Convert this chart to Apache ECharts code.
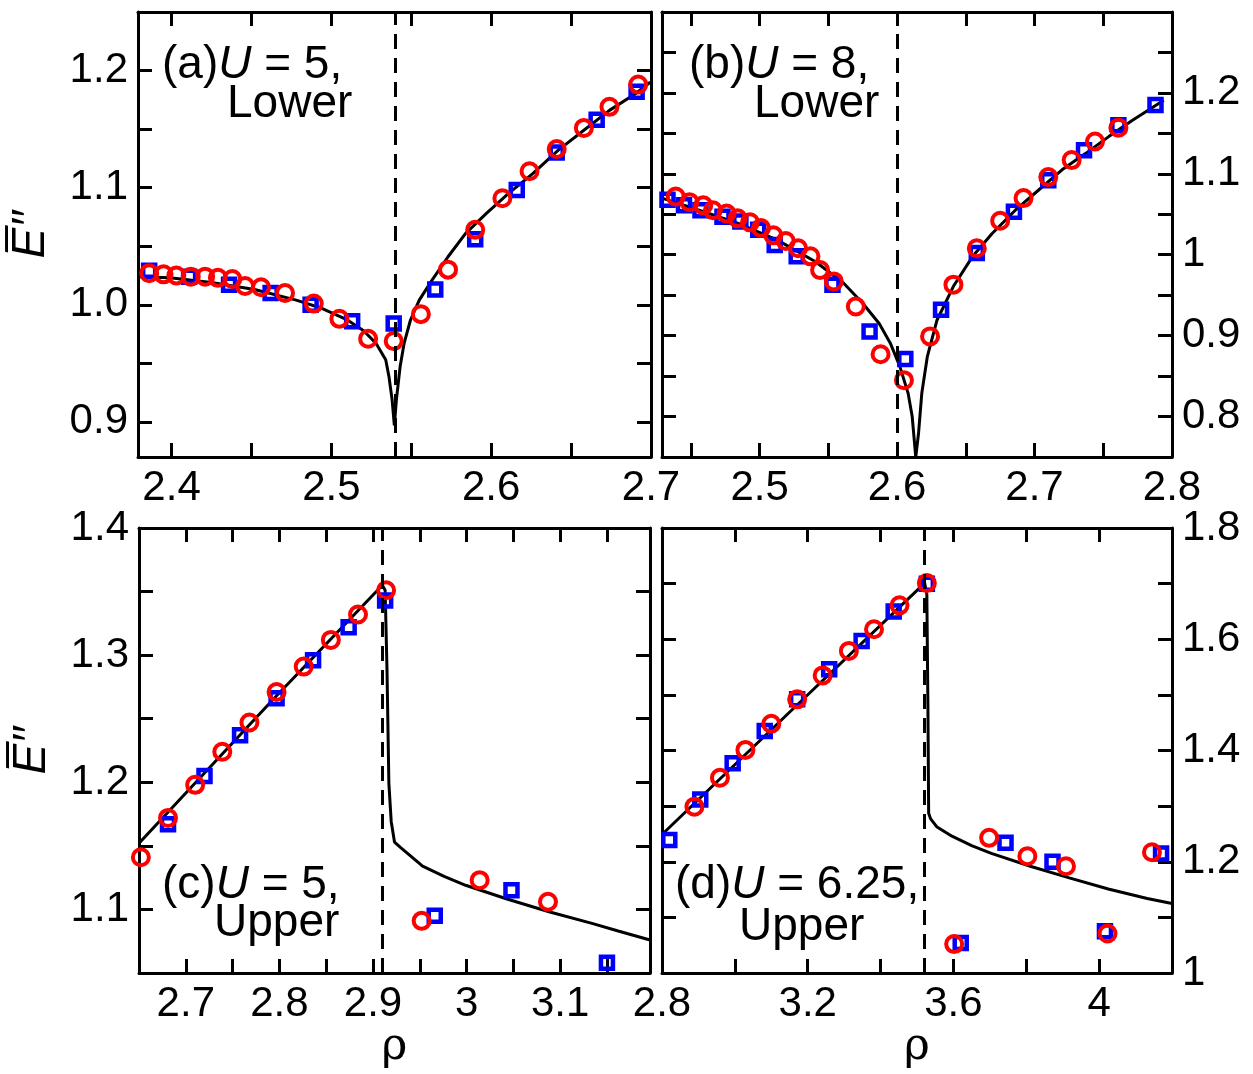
<!DOCTYPE html>
<html>
<head>
<meta charset="utf-8">
<title>E'' versus rho</title>
<script src="https://cdn.jsdelivr.net/npm/echarts@6/dist/echarts.min.js"></script>
<style>
  html, body { margin: 0; padding: 0; background: #fff; }
  #chart { width: 1253px; height: 1074px; }
</style>
</head>
<body>
<div id="chart"></div>
<script>
// (a) U = 5, lower
var aCircleRho = [2.386, 2.395, 2.403, 2.412, 2.421, 2.429, 2.438, 2.446, 2.456, 2.471, 2.489, 2.505, 2.523, 2.539, 2.556, 2.573, 2.590, 2.607, 2.624, 2.641, 2.658, 2.674, 2.692];
var aCircleE = [1.027, 1.026, 1.025, 1.024, 1.024, 1.023, 1.022, 1.016, 1.015, 1.010, 1.001, 0.988, 0.971, 0.969, 0.992, 1.030, 1.064, 1.091, 1.114, 1.133, 1.151, 1.169, 1.188];
var aSquareRho = [2.386, 2.411, 2.436, 2.462, 2.487, 2.513, 2.539, 2.565, 2.590, 2.616, 2.641, 2.666, 2.691];
var aSquareE = [1.029, 1.024, 1.017, 1.010, 1.000, 0.986, 0.984, 1.013, 1.056, 1.098, 1.130, 1.158, 1.182];
var aCurveRho = [2.379, 2.399, 2.425, 2.452, 2.478, 2.494, 2.510, 2.520, 2.528, 2.534, 2.536, 2.538, 2.5394, 2.5407, 2.543, 2.5455, 2.5495, 2.555, 2.563, 2.573, 2.584, 2.597, 2.610, 2.626, 2.642, 2.658, 2.674, 2.690, 2.6995];
var aCurveE = [1.024, 1.023, 1.019, 1.013, 1.004, 0.997, 0.987, 0.978, 0.967, 0.953, 0.939, 0.919, 0.897, 0.919, 0.947, 0.967, 0.987, 1.004, 1.021, 1.041, 1.061, 1.078, 1.094, 1.112, 1.132, 1.149, 1.166, 1.180, 1.190];
var aCrit = 2.539;

// (b) U = 8, lower
var bCircleRho = [2.439, 2.449, 2.459, 2.466, 2.476, 2.484, 2.493, 2.501, 2.510, 2.519, 2.528, 2.537, 2.544, 2.554, 2.570, 2.588, 2.605, 2.624, 2.641, 2.658, 2.675, 2.692, 2.710, 2.727, 2.744, 2.761];
var bCircleE = [1.072, 1.065, 1.061, 1.055, 1.051, 1.045, 1.040, 1.033, 1.024, 1.017, 1.008, 0.998, 0.981, 0.967, 0.936, 0.877, 0.845, 0.899, 0.963, 1.008, 1.042, 1.070, 1.096, 1.117, 1.140, 1.157];
var bSquareRho = [2.433, 2.445, 2.457, 2.473, 2.486, 2.499, 2.511, 2.527, 2.553, 2.580, 2.606, 2.632, 2.658, 2.685, 2.710, 2.736, 2.761, 2.788];
var bSquareE = [1.068, 1.061, 1.055, 1.047, 1.041, 1.031, 1.012, 0.998, 0.963, 0.905, 0.871, 0.932, 1.002, 1.053, 1.092, 1.129, 1.160, 1.185];
var bCurveRho = [2.429, 2.456, 2.484, 2.513, 2.541, 2.561, 2.575, 2.587, 2.595, 2.602, 2.608, 2.611, 2.6136, 2.6156, 2.618, 2.622, 2.629, 2.641, 2.655, 2.669, 2.686, 2.703, 2.720, 2.737, 2.754, 2.771, 2.794];
var bCurveE = [1.070, 1.055, 1.039, 1.018, 0.991, 0.965, 0.940, 0.915, 0.891, 0.862, 0.829, 0.800, 0.750, 0.779, 0.829, 0.874, 0.919, 0.961, 0.998, 1.026, 1.055, 1.080, 1.105, 1.125, 1.146, 1.166, 1.191];
var bCrit = 2.6045;

// (c) U = 5, upper
var cCircleRho = [2.652, 2.681, 2.710, 2.739, 2.768, 2.797, 2.826, 2.855, 2.884, 2.914, 2.952, 3.014, 3.087];
var cCircleE = [1.141, 1.172, 1.198, 1.224, 1.247, 1.271, 1.291, 1.312, 1.332, 1.351, 1.091, 1.123, 1.106];
var cSquareRho = [2.681, 2.720, 2.758, 2.797, 2.836, 2.874, 2.913, 2.966, 3.048, 3.150];
var cSquareE = [1.167, 1.205, 1.237, 1.266, 1.296, 1.322, 1.343, 1.095, 1.115, 1.058];
var cCurveRho = [2.650, 2.797, 2.910, 2.913, 2.915, 2.917, 2.9195, 2.923, 2.929, 2.953, 2.976, 2.999, 3.044, 3.089, 3.134, 3.162, 3.196];
var cCurveE = [1.152, 1.268, 1.355, 1.351, 1.288, 1.199, 1.169, 1.153, 1.149, 1.134, 1.126, 1.119, 1.108, 1.098, 1.089, 1.083, 1.076];
var cCrit = 2.912;

// (d) U = 6.25, upper
var dCircleRho = [2.889, 2.959, 3.029, 3.100, 3.171, 3.241, 3.313, 3.382, 3.452, 3.527, 3.602, 3.698, 3.803, 3.909, 4.023, 4.145];
var dCircleE = [1.299, 1.351, 1.401, 1.448, 1.492, 1.535, 1.579, 1.618, 1.661, 1.701, 1.052, 1.243, 1.210, 1.192, 1.071, 1.217];
var dSquareRho = [2.820, 2.905, 2.994, 3.082, 3.171, 3.259, 3.348, 3.436, 3.527, 3.620, 3.743, 3.872, 4.016, 4.170];
var dSquareE = [1.239, 1.312, 1.377, 1.435, 1.492, 1.546, 1.597, 1.650, 1.700, 1.054, 1.234, 1.200, 1.075, 1.215];
var dCurveRho = [2.800, 3.160, 3.521, 3.527, 3.530, 3.532, 3.5375, 3.554, 3.596, 3.650, 3.704, 3.811, 3.918, 4.025, 4.132, 4.200];
var dCurveE = [1.249, 1.475, 1.701, 1.681, 1.477, 1.287, 1.277, 1.263, 1.246, 1.229, 1.215, 1.192, 1.171, 1.151, 1.134, 1.125];
var dCrit = 3.525;

// tick labels
var aXLabels = ['2.4', '2.5', '2.6', '2.7'];
var aYLabels = ['0.9', '1.0', '1.1', '1.2'];
var bXLabels = ['2.5', '2.6', '2.7', '2.8'];
var bYLabels = ['0.8', '0.9', '1', '1.1', '1.2'];
var cXLabels = ['2.7', '2.8', '2.9', '3', '3.1'];
var cYLabels = ['1.1', '1.2', '1.3', '1.4'];
var dXLabels = ['2.8', '3.2', '3.6', '4'];
var dYLabels = ['1', '1.2', '1.4', '1.6', '1.8'];

var FONT = '"Liberation Sans", Arial, Helvetica, sans-serif';
var chart = echarts.init(document.getElementById('chart'));

function pairs(xs, ys) {
  return xs.map(function (x, i) { return [x, ys[i]]; });
}

function labelFmt(list) {
  return function (v) {
    for (var i = 0; i < list.length; i++) {
      if (Math.abs(parseFloat(list[i]) - v) < 1e-6) return list[i];
    }
    return '';
  };
}

var panels = [
  {rect: [138, 12, 513, 445], x: [2.379, 2.7, 0.05, aXLabels], y: [0.87, 1.25, 0.05, aYLabels], ySide: 'left',
   circ: pairs(aCircleRho, aCircleE), sq: pairs(aSquareRho, aSquareE), curve: pairs(aCurveRho, aCurveE), crit: aCrit, yName: true, xName: false},
  {rect: [662, 12, 510, 445], x: [2.429, 2.8, 0.05, bXLabels], y: [0.75, 1.30, 0.05, bYLabels], ySide: 'right',
   circ: pairs(bCircleRho, bCircleE), sq: pairs(bSquareRho, bSquareE), curve: pairs(bCurveRho, bCurveE), crit: bCrit, yName: false, xName: false},
  {rect: [139, 528, 511, 445], x: [2.65, 3.196, 0.05, cXLabels], y: [1.05, 1.40, 0.05, cYLabels], ySide: 'left',
   circ: pairs(cCircleRho, cCircleE), sq: pairs(cSquareRho, cSquareE), curve: pairs(cCurveRho, cCurveE), crit: cCrit, yName: true, xName: true},
  {rect: [662, 528, 510, 445], x: [2.8, 4.2, 0.2, dXLabels], y: [1.0, 1.8, 0.1, dYLabels], ySide: 'right',
   circ: pairs(dCircleRho, dCircleE), sq: pairs(dSquareRho, dSquareE), curve: pairs(dCurveRho, dCurveE), crit: dCrit, yName: false, xName: true}
];

var grids = [], xAxes = [], yAxes = [], series = [];

function axis(gi, rng, position, showLabel) {
  return {
    type: 'value', gridIndex: gi, position: position,
    min: rng[0], max: rng[1], minInterval: rng[2], maxInterval: rng[2],
    splitNumber: Math.round((rng[1] - rng[0]) / rng[2]),
    axisLine: {onZero: false, lineStyle: {color: '#000', width: 3}},
    axisTick: {show: true, inside: true, length: 14, lineStyle: {color: '#000', width: 3}},
    splitLine: {show: false},
    axisLabel: {show: showLabel, fontSize: 42, color: '#000', fontFamily: FONT, margin: 10,
      formatter: labelFmt(rng[3])}
  };
}

panels.forEach(function (p, i) {
  grids.push({left: p.rect[0], top: p.rect[1], width: p.rect[2], height: p.rect[3],
    containLabel: false, outerBoundsMode: 'none'});

  var xb = axis(i, p.x, 'bottom', true);
  if (p.xName) {
    xb.name = 'ρ';
    xb.nameLocation = 'middle';
    xb.nameGap = 52;
    xb.nameTextStyle = {fontSize: 44, color: '#000', fontFamily: '"DejaVu Serif", "Liberation Serif", serif'};
  }
  xAxes.push(xb, axis(i, p.x, 'top', false));

  var yMain = axis(i, p.y, p.ySide, true);
  if (p.yName) {
    yMain.name = 'E\u0305\u2032\u2032';
    yMain.nameLocation = 'middle';
    yMain.nameGap = 84;
    yMain.nameTextStyle = {fontSize: 46, fontStyle: 'italic', color: '#000', fontFamily: FONT};
  }
  yAxes.push(yMain, axis(i, p.y, p.ySide === 'left' ? 'right' : 'left', false));

  series.push({
    type: 'line', xAxisIndex: 2 * i, yAxisIndex: 2 * i, data: p.curve,
    showSymbol: false, symbol: 'none', lineStyle: {color: '#000', width: 3}, z: 2,
    markLine: {silent: true, symbol: 'none', label: {show: false},
      lineStyle: {color: '#000', width: 3, type: [15, 9]},
      data: [{xAxis: p.crit}]}
  });
  series.push({
    type: 'scatter', xAxisIndex: 2 * i, yAxisIndex: 2 * i, data: p.sq,
    symbol: 'rect', symbolSize: 12, z: 3,
    itemStyle: {color: 'rgba(0,0,0,0)', borderColor: '#0000ff', borderWidth: 4.5, opacity: 1}
  });
  series.push({
    type: 'scatter', xAxisIndex: 2 * i, yAxisIndex: 2 * i, data: p.circ,
    symbol: 'circle', symbolSize: 16, z: 4,
    itemStyle: {color: 'rgba(0,0,0,0)', borderColor: '#ff0000', borderWidth: 4, opacity: 1}
  });
});

var rich = {u: {fontStyle: 'italic', fontSize: 46, fontFamily: FONT, color: '#000'}};
function tag(text, left, top) {
  return {text: text, left: left, top: top, padding: 0,
    textStyle: {fontSize: 46, fontWeight: 'normal', color: '#000', fontFamily: FONT, lineHeight: 46, rich: rich}};
}

chart.setOption({
  animation: false,
  backgroundColor: '#fff',
  title: [
    tag('(a){u|U} = 5,', 162, 42), tag('Lower', 227, 81),
    tag('(b){u|U} = 8,', 689, 42), tag('Lower', 754, 81),
    tag('(c){u|U} = 5,', 162, 862), tag('Upper', 214, 900),
    tag('(d){u|U} = 6.25,', 675, 862), tag('Upper', 739, 904)
  ],
  grid: grids,
  xAxis: xAxes,
  yAxis: yAxes,
  series: series
});
</script>
</body>
</html>
